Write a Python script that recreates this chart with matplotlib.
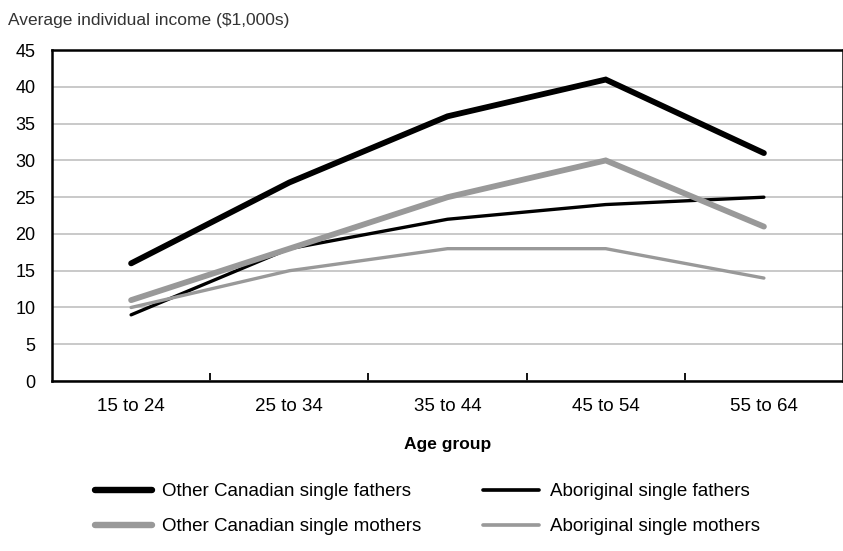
import matplotlib
matplotlib.use("Agg")
from matplotlib import pyplot as plt
from matplotlib.lines import Line2D

plt.rcParams['font.family'] = ['Liberation Sans', 'DejaVu Sans']

age_groups = ['15 to 24', '25 to 34', '35 to 44', '45 to 54', '55 to 64']
other_fathers = [16, 27, 36, 41, 31]
abor_fathers = [9, 18, 22, 24, 25]
other_mothers = [11, 18, 25, 30, 21]
abor_mothers = [10, 15, 18, 18, 14]

series = [
    ('Other Canadian single fathers', other_fathers, 'black', 4.2),
    ('Aboriginal single fathers', abor_fathers, 'black', 2.4),
    ('Other Canadian single mothers', other_mothers, '#999999', 4.2),
    ('Aboriginal single mothers', abor_mothers, '#999999', 2.4),
]

fig = plt.figure(figsize=(8.43, 5.51), dpi=100)
ax = fig.add_axes([0.0617, 0.3085, 0.9383, 0.6005])

x = list(range(len(age_groups)))
for label, vals, col, lw in series:
    ax.plot(x, vals, color=col, lw=lw, solid_capstyle='round',
            solid_joinstyle='miter', label=label, zorder=3)

ax.set_xlim(-0.5, len(age_groups) - 0.5)
ax.set_ylim(0, 45)
ax.set_yticks(range(0, 46, 5))
ax.yaxis.grid(True, color='#c0c0c0', lw=1.2)
ax.set_axisbelow(True)
ax.tick_params(axis='y', length=0, labelsize=13, pad=12)
ax.set_xticks(x)
ax.set_xticklabels(age_groups)
ax.tick_params(axis='x', which='major', length=0, labelsize=13.5, pad=12)
ax.set_xticks([i + 0.5 for i in range(len(age_groups) - 1)], minor=True)
ax.tick_params(axis='x', which='minor', direction='in', length=6, width=1.3)
for s in ax.spines.values():
    s.set_linewidth(1.8)

ax.set_xlabel('Age group', fontsize=12.5, fontweight='bold', labelpad=16)
fig.text(0.0095, 0.963, 'Average individual income ($1,000s)', fontsize=12.5,
         color='#333333', va='center', ha='left')

# legend reads row by row: fathers on top, mothers below
order = [0, 2, 1, 3]
handles = [Line2D([0], [0], color=series[i][2], lw=series[i][3] * 1.1,
                  solid_capstyle='round') for i in order]
labels = [series[i][0] for i in order]
fig.legend(handles, labels, loc='center left',
           bbox_to_anchor=(0.093, 0.076), ncol=2, frameon=False,
           fontsize=13.5, handlelength=3.0, columnspacing=3.3,
           handletextpad=0.55, labelspacing=0.95)

fig.savefig('out.png', dpi=100)
